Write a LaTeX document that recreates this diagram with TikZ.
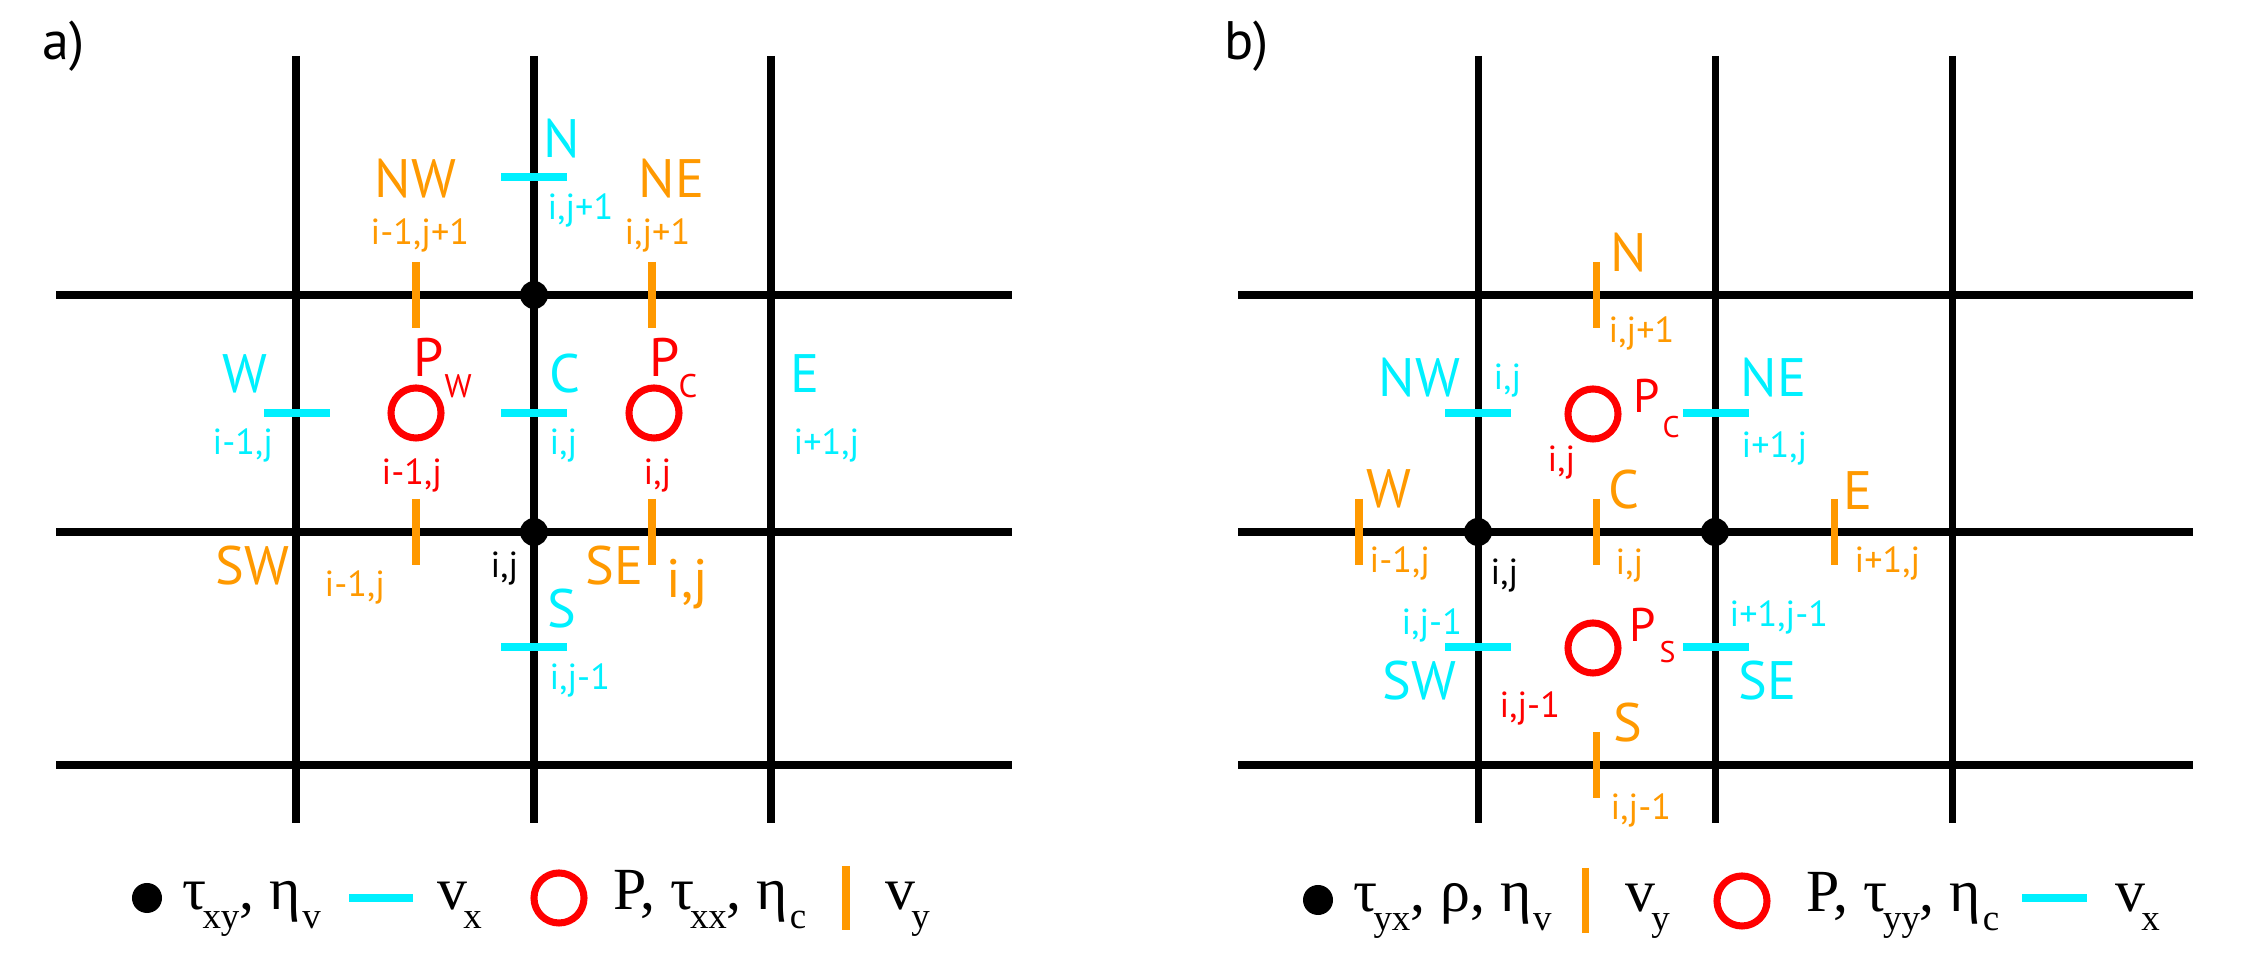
\documentclass[tikz,border=0pt]{standalone}
\usepackage{fontspec}
\setmainfont{PT Sans}
\newfontfamily\legfont{Liberation Serif}
\usepackage{tikz}

\definecolor{vxcol}{RGB}{0,240,255}
\definecolor{vycol}{RGB}{255,153,0}
\definecolor{pcol}{RGB}{255,0,0}

\tikzset{
	gridline/.style={line width=2pt},
	vxbar/.style={vxcol, line width=2pt},
	vybar/.style={vycol, line width=2pt},
	pcirc/.style={pcol, line width=2pt},
	lab/.style={inner sep=0pt, anchor=base west, font=\fontsize{15.4}{18}\selectfont},
	idx/.style={inner sep=0pt, anchor=base west, font=\fontsize{10.3}{12}\selectfont},
	plab/.style={lab, font=\fontsize{13.4}{16}\selectfont},
	psub/.style={lab, font=\fontsize{9.3}{11}\selectfont},
	psubb/.style={lab, font=\fontsize{8.5}{10}\selectfont},
	leg/.style={inner sep=0pt, anchor=base west, font=\legfont\fontsize{17}{20}\selectfont},
}
\newcommand\lsub[2][-1.2pt]{\kern#1\raisebox{-5.4pt}{\fontsize{10.5}{12}\selectfont #2}}

\begin{document}
\begin{tikzpicture}[x=0.01cm, y=-0.01cm]
	\useasboundingbox (0,0) rectangle (2245,977);

	% a)
	\node[lab] (alabel) at (42,60) {a)};
	\foreach \x in {296,534,771} \draw[gridline] (\x,56) -- (\x,823);
	\foreach \y in {295,532,765} \draw[gridline] (56,\y) -- (1012,\y);
	\foreach \x/\y in {534/177, 297/413, 534/413, 534/647} \draw[vxbar] (\x-33,\y) -- (\x+33,\y);
	\foreach \x/\y in {416/295, 652/295, 416/532, 652/532} \draw[vybar] (\x,\y-33) -- (\x,\y+33);
	\foreach \x in {416,654} \draw[pcirc] (\x,413) circle[radius=0.25cm];
	\foreach \y in {295,532} \fill (534,\y) circle[radius=0.14cm];

	\node[lab, vxcol] (aN) at (543,158) {N};
	\node[idx, vxcol] (aNi) at (547,220) {i,j+1};
	\node[lab, vycol] (aNW) at (374,198) {NW};
	\node[idx, vycol] (aNWi) at (370,245) {i-1,j+1};
	\node[lab, vycol] (aNE) at (638,198) {NE};
	\node[idx, vycol] (aNEi) at (624,245) {i,j+1};
	\node[lab, vxcol] (aW) at (222,393) {W};
	\node[idx, vxcol] (aWi) at (212,455) {i-1,j};
	\node[lab, pcol] (aPW) at (413,377) {P};
	\node[psub, pcol] (aPWs) at (444,398) {W};
	\node[lab, vxcol] (aC) at (549,393) {C};
	\node[idx, vxcol] (aCi) at (549,455) {i,j};
	\node[lab, pcol] (aPC) at (649,377) {P};
	\node[psub, pcol] (aPCs) at (678,398) {C};
	\node[lab, vxcol] (aE) at (790,393) {E};
	\node[idx, vxcol] (aEi) at (793,455) {i+1,j};
	\node[idx, pcol] (aPWi) at (381,485) {i-1,j};
	\node[idx, pcol] (aPCi) at (643,485) {i,j};
	\node[lab, vycol] (aSW) at (215,585) {SW};
	\node[idx, vycol] (aSWi) at (324,597) {i-1,j};
	\node[idx] (aij) at (490,578) {i,j};
	\node[lab, vycol] (aSE) at (585,585) {SE};
	\node[lab, vycol] (aSEi) at (666,598) {i,j};
	\node[lab, vxcol] (aS) at (547,628) {S};
	\node[idx, vxcol] (aSi) at (549,690) {i,j-1};

	\fill (147,898) circle[radius=0.15cm];
	\node[leg] (alegtau) at (182,910) {τ\lsub{xy}, η\lsub[0.5pt]{v}};
	\draw[vxbar] (349,898) -- (413,898);
	\node[leg] (alegvx) at (437,910) {v\lsub{x}};
	\draw[pcirc] (559,898) circle[radius=0.25cm];
	\node[leg] (alegp) at (613,910) {P, τ\lsub{xx}, η\lsub[0.5pt]{c}};
	\draw[vybar] (846,866) -- (846,930);
	\node[leg] (alegvy) at (885,910) {v\lsub{y}};

	% b)
	\node[lab] (blabel) at (1224,60) {b)};
	\foreach \x in {1478,1715,1952} \draw[gridline] (\x,56) -- (\x,823);
	\foreach \y in {295,532,765} \draw[gridline] (1238,\y) -- (2193,\y);
	\foreach \x/\y in {1478/413, 1478/647, 1716/413, 1716/647} \draw[vxbar] (\x-33,\y) -- (\x+33,\y);
	\foreach \x/\y in {1596/295, 1596/532, 1596/765, 1359/532, 1834/532} \draw[vybar] (\x,\y-33) -- (\x,\y+33);
	\foreach \y in {414,648} \draw[pcirc] (1593,\y) circle[radius=0.25cm];
	\foreach \x in {1478,1715} \fill (\x,532) circle[radius=0.14cm];

	\node[lab, vycol] (bN) at (1610,272) {N};
	\node[idx, vycol] (bNi) at (1608,343) {i,j+1};
	\node[lab, vxcol] (bNW) at (1378,397) {NW};
	\node[idx, vxcol] (bNWi) at (1493,390) {i,j};
	\node[plab, pcol] (bPC) at (1633,413) {P};
	\node[psubb, pcol] (bPCs) at (1662,438) {C};
	\node[idx, pcol] (bPCi) at (1547,472) {i,j};
	\node[lab, vxcol] (bNE) at (1740,397) {NE};
	\node[idx, vxcol] (bNEi) at (1741,458) {i+1,j};
	\node[lab, vycol] (bW) at (1366,508) {W};
	\node[idx, vycol] (bWi) at (1369,573) {i-1,j};
	\node[idx] (bij) at (1490,585) {i,j};
	\node[lab, vycol] (bC) at (1608,509) {C};
	\node[idx, vycol] (bCi) at (1615,575) {i,j};
	\node[lab, vycol] (bE) at (1843,510) {E};
	\node[idx, vycol] (bEi) at (1854,573) {i+1,j};
	\node[idx, vxcol] (bSWi) at (1401,635) {i,j-1};
	\node[lab, vxcol] (bSW) at (1382,700) {SW};
	\node[plab, pcol] (bPS) at (1629,642) {P};
	\node[psubb, pcol] (bPSs) at (1659,663) {S};
	\node[idx, vxcol] (bSEi) at (1729,627) {i+1,j-1};
	\node[lab, vxcol] (bSE) at (1738,700) {SE};
	\node[idx, pcol] (bPSi) at (1499,718) {i,j-1};
	\node[lab, vycol] (bS) at (1613,742) {S};
	\node[idx, vycol] (bSi) at (1610,820) {i,j-1};

	\fill (1318,900) circle[radius=0.15cm];
	\node[leg] (blegtau) at (1353,912) {τ\lsub{yx}, ρ, η\lsub[0.5pt]{v}};
	\draw[vybar] (1585,868) -- (1585,933);
	\node[leg] (blegvy) at (1625,912) {v\lsub{y}};
	\draw[pcirc] (1742,901) circle[radius=0.25cm];
	\node[leg] (blegp) at (1806,912) {P, τ\lsub{yy}, η\lsub[0.5pt]{c}};
	\draw[vxbar] (2022,898) -- (2087,898);
	\node[leg] (blegvx) at (2115,912) {v\lsub{x}};
\end{tikzpicture}
\end{document}
